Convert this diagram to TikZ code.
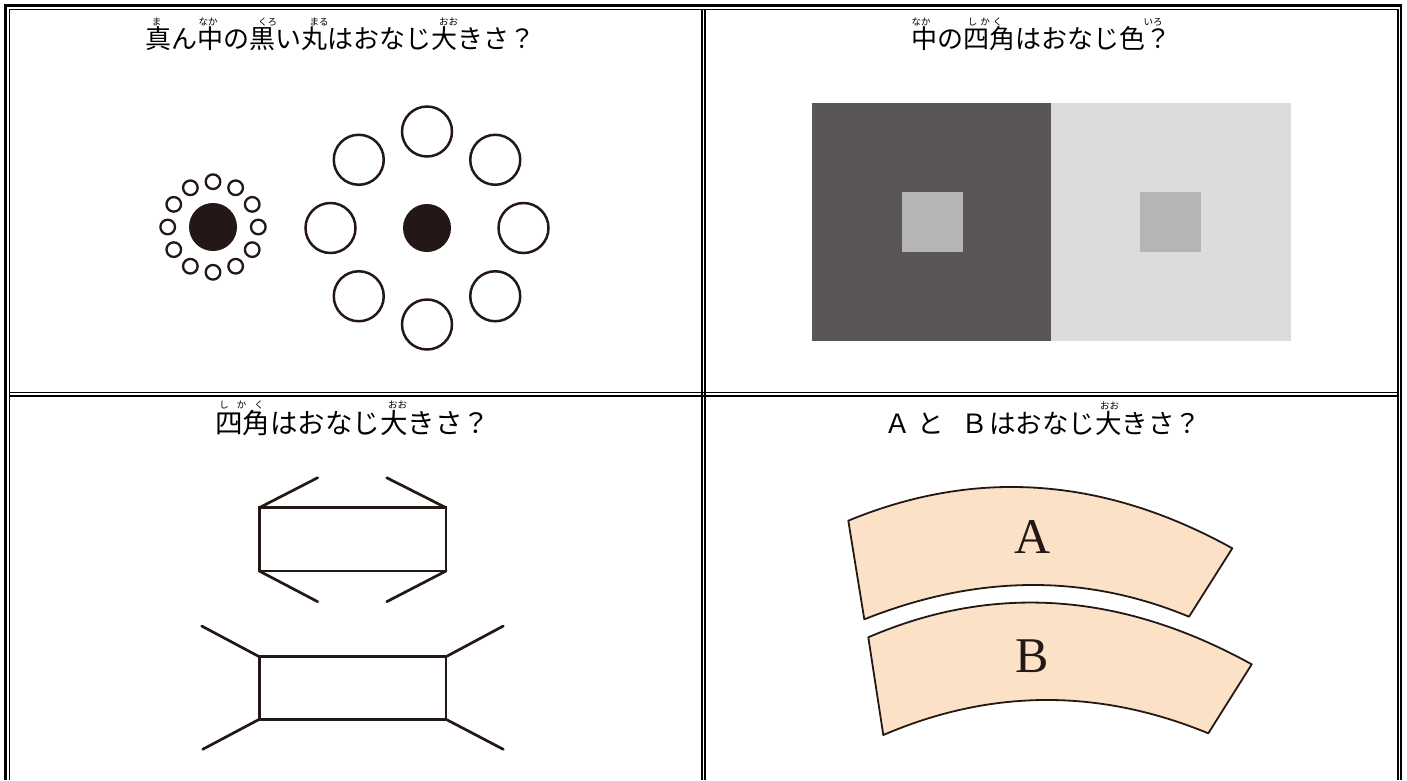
\documentclass[tikz,border=0pt]{standalone}
\usepackage{fontspec}
\newfontfamily\jpfont{Noto Sans CJK JP}
\newfontfamily\abfont{Liberation Serif}
\usetikzlibrary{calc}
\definecolor{ink}{RGB}{35,24,21}
\definecolor{sqdark}{RGB}{90,86,87}
\definecolor{sqlight}{RGB}{220,220,220}
\definecolor{sqmid}{RGB}{181,181,181}
\definecolor{peach}{RGB}{251,226,198}
\begin{document}
\begin{tikzpicture}[x=1pt,y=-1pt,
  title/.style={anchor=base west, inner sep=0pt, font=\jpfont\fontsize{26}{26}\selectfont},
  rubytext/.style={anchor=base, inner sep=0pt, font=\jpfont\fontsize{9.5}{9.5}\selectfont},
  rule/.style={line width=#1, black},
  ringsmall/.style={draw=ink, line width=2.3},
  ringbig/.style={draw=ink, line width=2.5},
  fig/.style={draw=ink, line width=2.7, line cap=round},
  band/.style={fill=peach, draw=ink, line width=1.8, line join=round},
  bandlabel/.style={inner sep=0pt, text=ink, font=\abfont\fontsize{50}{50}\selectfont}]
\useasboundingbox (0,0) rectangle (1407,780);
\fill[white] (0,0) rectangle (1407,780);

% ---- table rules (double lines) ----
\draw[rule=2.7] (4,5.35) -- (1402.3,5.35);
\draw[rule=3.3] (5.65,4) -- (5.65,780);
\draw[rule=2.2] (1401.2,4) -- (1401.2,780);
\draw[rule=1.1] (9,9.5) -- (1398.9,9.5);
\draw[rule=1.1] (9.5,9) -- (9.5,780);
\draw[rule=2.2] (1397.8,9) -- (1397.8,780);
\draw[rule=2] (702,9) -- (702,780);
\draw[rule=2] (705,9) -- (705,780);
\draw[rule=1.6] (9,392.5) -- (1398.9,392.5);
\draw[rule=2] (9,396) -- (1398.9,396);

% ---- titles ----
\node[title] (t1) at (145,48.5) {真ん中の黒い丸はおなじ大きさ？};
\node[rubytext] (r1a) at (156.7,25.5) {ま};
\node[rubytext] (r1b) at (208,25.5) {なか};
\node[rubytext] (r1c) at (267.5,25.5) {くろ};
\node[rubytext] (r1d) at (319,25.5) {まる};
\node[rubytext] (r1e) at (448.5,25.5) {おお};

\node[title] (t2) at (911,48.5) {中の四角はおなじ色？};
\node[rubytext] (r2a) at (921,25.5) {なか};
\node[rubytext] (r2b) at (985,25.5) {し\hspace{3pt}か\hspace{3pt}く};
\node[rubytext] (r2c) at (1153,25.5) {いろ};

\node[title, font=\jpfont\fontsize{27.5}{27.5}\selectfont] (t3) at (215,433) {四角はおなじ大きさ？};
\node[rubytext] (r3a) at (241.5,408) {し\hspace{8pt}か\hspace{8pt}く};
\node[rubytext] (r3b) at (397.5,408) {おお};

\node[title, font=\jpfont\fontsize{26.5}{26.5}\selectfont] (t4) at (884.5,433)
  {Ａ\hspace{6pt}と\hspace{17.5pt}Ｂ\hspace{1.5pt}はおなじ大きさ？};
\node[rubytext] (r4a) at (1109.5,409.5) {おお};

% ---- cell 1: Ebbinghaus ----
\fill[ink] (213,227) circle[radius=24];
\foreach \a in {0,30,...,330}
  \draw[ringsmall] ($(213,227)+(\a:45.3)$) circle[radius=7.3];
\fill[ink] (427,228) circle[radius=24];
\foreach \a in {0,45,...,315}
  \draw[ringbig] ($(427,228)+(\a:96.5)$) circle[radius=25];

% ---- cell 2: squares ----
\fill[sqdark] (812.3,102.7) rectangle (1050.7,340.7);
\fill[sqlight] (1050.7,102.7) rectangle (1290.7,340.7);
\fill[sqmid] (901.7,191.7) rectangle (962.7,252.3);
\fill[sqmid] (1140,191.7) rectangle (1200.7,252.3);

% ---- cell 3: rectangles with fins ----
\draw[fig, line cap=butt] (259.3,507.7) rectangle (446,571);
\draw[fig] (317.7,477.7) -- (259.3,507.7);
\draw[fig] (386.7,477.7) -- (446,507.7);
\draw[fig] (317.7,601.7) -- (259.3,571);
\draw[fig] (386.7,601.7) -- (446,571);
\draw[fig, line cap=butt] (259.3,656.7) rectangle (446,719.3);
\draw[fig] (201.7,626) -- (259.3,656.7);
\draw[fig] (503.3,626) -- (446,656.7);
\draw[fig] (202.7,749.3) -- (259.3,719.3);
\draw[fig] (503.3,749.3) -- (446,719.3);

% ---- cell 4: Jastrow ----
\coordinate (a1) at (848.3,520.7);
\coordinate (a2) at (1232.3,548.3);
\coordinate (a3) at (1189,616.7);
\coordinate (a4) at (864.3,619.3);
\coordinate (ac) at (1039.7,441.5);
\coordinate (ad) at (1033.3,552);
\filldraw[band] (a1) .. controls ($(a1)!2/3!(ac)$) and ($(a2)!2/3!(ac)$) .. (a2) -- (a3)
  .. controls ($(a3)!2/3!(ad)$) and ($(a4)!2/3!(ad)$) .. (a4) -- cycle;
\coordinate (b1) at (868.3,637.3);
\coordinate (b2) at (1251.7,664.3);
\coordinate (b3) at (1208.3,733.3);
\coordinate (b4) at (883.3,735);
\coordinate (bc) at (1056,556.2);
\coordinate (bd) at (1044.2,665.8);
\filldraw[band] (b1) .. controls ($(b1)!2/3!(bc)$) and ($(b2)!2/3!(bc)$) .. (b2) -- (b3)
  .. controls ($(b3)!2/3!(bd)$) and ($(b4)!2/3!(bd)$) .. (b4) -- cycle;
\node[bandlabel] (la) at (1032.5,536.7) {A};
\node[bandlabel] (lb) at (1031.7,655.8) {B};
\end{tikzpicture}
\end{document}
